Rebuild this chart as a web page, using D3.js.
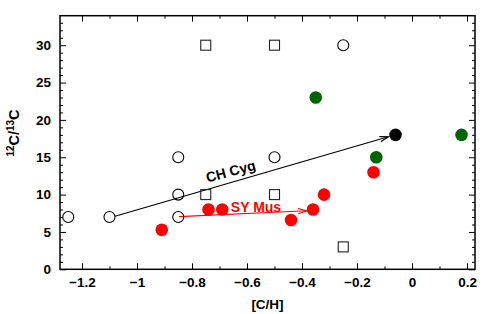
<!DOCTYPE html>
<html>
<head>
<meta charset="utf-8">
<script src="https://cdn.jsdelivr.net/npm/d3@7"></script>
<style>
  html, body { margin: 0; padding: 0; background: #fff; }
  svg { display: block; }
  text { font-family: "Liberation Sans", Arial, Helvetica, sans-serif; font-weight: bold; }
</style>
</head>
<body>
<svg id="chart" width="500" height="314"></svg>
<script>
// ---- data ----
const xTicks = [-1.2, -1, -0.8, -0.6, -0.4, -0.2, 0, 0.2];
const xTickLabels = ["\u22121.2", "\u22121", "\u22120.8", "\u22120.6", "\u22120.4", "\u22120.2", "0", "0.2"];
const yTicks = [0, 5, 10, 15, 20, 25, 30];
const yTickLabels = ["0", "5", "10", "15", "20", "25", "30"];

const openCircleX = [-1.25, -1.10, -0.85, -0.85, -0.85, -0.50, -0.25];
const openCircleY = [7, 7, 15, 10, 7, 15, 30];

const openSquareX = [-0.75, -0.50, -0.75, -0.50, -0.25];
const openSquareY = [30, 30, 10, 10, 3];

const greenX = [-0.35, -0.13, 0.18];
const greenY = [23, 15, 18];

const blackX = [-0.06];
const blackY = [18];

const redX = [-0.91, -0.74, -0.69, -0.44, -0.36, -0.32, -0.14];
const redY = [5.3, 8, 8, 6.6, 8, 10, 13];

// arrows: [x0, y0, x1, y1]
const chCygArrow = [-1.08, 7.1, -0.086, 17.75];
const syMusArrow = [-0.847, 7.04, -0.383, 7.84];

// ---- layout ----
const svg = d3.select("#chart");
const L = 60, R = 475, T = 15.7, B = 269.3;
const x = d3.scaleLinear().domain([-1.28, 0.229]).range([L, R]);
const y = d3.scaleLinear().domain([0, 33.95]).range([B, T]);

const xMinor = d3.range(-1.2, 0.25, 0.1).map(v => +v.toFixed(2)).filter(v => !xTicks.some(t => Math.abs(t - v) < 1e-6));
const yMinor = d3.range(0, 34, 1).filter(v => v % 5 !== 0);

// ticks (inward) on all four sides
function ticks(axisFn, scale, vals, size, transform, labels) {
  const ax = axisFn(scale).tickValues(vals).tickSizeInner(size).tickSizeOuter(0);
  if (labels) ax.tickFormat((d, i) => labels[i]); else ax.tickFormat("");
  const g = svg.append("g").attr("transform", transform).call(ax);
  g.select(".domain").remove();
  g.selectAll(".tick line").attr("stroke", "#000").attr("stroke-width", 1);
  return g;
}
const gxb = ticks(d3.axisBottom, x, xTicks, -6, `translate(0,${B})`, xTickLabels);
ticks(d3.axisBottom, x, xMinor, -3, `translate(0,${B})`);
ticks(d3.axisTop, x, xTicks, -6, `translate(0,${T})`);
ticks(d3.axisTop, x, xMinor, -3, `translate(0,${T})`);
const gyl = ticks(d3.axisLeft, y, yTicks, -6, `translate(${L},0)`, yTickLabels);
ticks(d3.axisLeft, y, yMinor, -3, `translate(${L},0)`);
ticks(d3.axisRight, y, yTicks, -6, `translate(${R},0)`);
ticks(d3.axisRight, y, yMinor, -3, `translate(${R},0)`);

gxb.selectAll(".tick text").attr("y", 8).attr("font-size", 13.5).attr("font-family", "Liberation Sans, Arial, sans-serif").attr("font-weight", "bold").attr("fill", "#000");
gyl.selectAll(".tick text").attr("x", -9).attr("font-size", 13.5).attr("font-family", "Liberation Sans, Arial, sans-serif").attr("font-weight", "bold").attr("fill", "#000");

// frame
svg.append("rect").attr("x", L).attr("y", T).attr("width", R - L).attr("height", B - T)
  .attr("fill", "none").attr("stroke", "#000").attr("stroke-width", 1.5);

// arrows
function arrow(a, color) {
  const x0 = x(a[0]), y0 = y(a[1]), x1 = x(a[2]), y1 = y(a[3]);
  svg.append("line").attr("x1", x0).attr("y1", y0).attr("x2", x1).attr("y2", y1)
    .attr("stroke", color).attr("stroke-width", 1.2);
  const ang = Math.atan2(y1 - y0, x1 - x0);
  const len = 9, spread = 0.3;
  const p1 = [x1 - len * Math.cos(ang - spread), y1 - len * Math.sin(ang - spread)];
  const p2 = [x1 - len * Math.cos(ang + spread), y1 - len * Math.sin(ang + spread)];
  svg.append("path").attr("d", `M${p1[0]},${p1[1]}L${x1},${y1}L${p2[0]},${p2[1]}`)
    .attr("fill", "none").attr("stroke", color).attr("stroke-width", 1.2);
}
arrow(chCygArrow, "#000");
arrow(syMusArrow, "#ff0000");

// open squares
svg.append("g").selectAll("rect").data(openSquareX).join("rect")
  .attr("x", (d, i) => x(d) - 5).attr("y", (d, i) => y(openSquareY[i]) - 5)
  .attr("width", 10).attr("height", 10)
  .attr("fill", "none").attr("stroke", "#222").attr("stroke-width", 1.1);

// open circles
svg.append("g").selectAll("circle").data(openCircleX).join("circle")
  .attr("cx", d => x(d)).attr("cy", (d, i) => y(openCircleY[i])).attr("r", 5.5)
  .attr("fill", "none").attr("stroke", "#000").attr("stroke-width", 1.1);

// filled circles
function filled(xs, ys, color) {
  svg.append("g").selectAll("circle").data(xs).join("circle")
    .attr("cx", d => x(d)).attr("cy", (d, i) => y(ys[i])).attr("r", 6.3)
    .attr("fill", color);
}
filled(greenX, greenY, "#006400");
filled(blackX, blackY, "#000");
filled(redX, redY, "#ff0000");

// labels
svg.append("text").attr("transform", `translate(232,176) rotate(-15)`)
  .attr("text-anchor", "middle").attr("font-size", 14).attr("fill", "#000").text("CH Cyg");
svg.append("text").attr("x", 256).attr("y", 211.5)
  .attr("text-anchor", "middle").attr("font-size", 14).attr("fill", "#ff0000").text("SY Mus");

// axis titles
svg.append("text").attr("x", (L + R) / 2).attr("y", 309)
  .attr("text-anchor", "middle").attr("font-size", 13.5).attr("fill", "#000").text("[C/H]");
const yl = svg.append("text").attr("transform", `translate(19,133) rotate(-90)`)
  .attr("text-anchor", "middle").attr("font-size", 14.5).attr("fill", "#000");
yl.append("tspan").attr("font-size", 10).attr("dy", -5.5).text("12");
yl.append("tspan").attr("dy", 5.5).text("C/");
yl.append("tspan").attr("font-size", 10).attr("dy", -5.5).text("13");
yl.append("tspan").attr("dy", 5.5).text("C");
</script>
</body>
</html>
